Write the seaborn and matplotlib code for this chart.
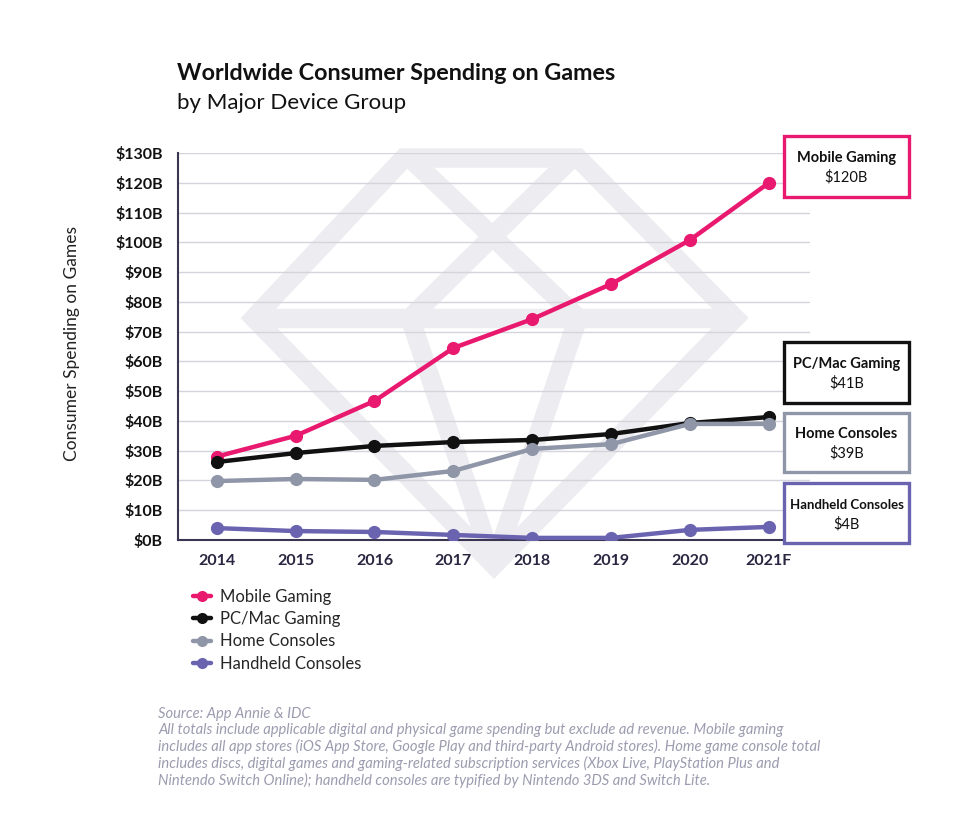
import numpy as np
import pandas as pd
import matplotlib
matplotlib.use("Agg")
import matplotlib.pyplot as plt
from matplotlib.lines import Line2D
from matplotlib.patches import Rectangle, Polygon
import seaborn as sns

# Data (billions of USD).
years = ["2014", "2015", "2016", "2017", "2018", "2019", "2020", "2021F"]
mobile = [28, 35, 46.7, 64.5, 74.2, 86, 100.8, 120]
pc_mac = [26.2, 29.2, 31.6, 32.9, 33.6, 35.6, 39.3, 41.3]
home = [19.8, 20.5, 20.2, 23.2, 30.6, 32.2, 39, 39]
handheld = [4, 3, 2.7, 1.7, 0.7, 0.7, 3.4, 4.4]
series_names = ["Mobile Gaming", "PC/Mac Gaming", "Home Consoles", "Handheld Consoles"]
colors = ["#e8196e", "#111111", "#8e96a8", "#6a63b0"]
yticks = list(range(0, 131, 10))

W, H = 973, 819
FONT = "Lato"

df = pd.DataFrame({
    "idx": list(range(len(years))) * 4,
    "value": mobile + pc_mac + home + handheld,
    "series": sum([[s] * len(years) for s in series_names], []),
})

sns.set_theme(style="white")
plt.rcParams["font.family"] = [FONT, "DejaVu Sans"]

fig = plt.figure(figsize=(W / 100, H / 100), dpi=100)
fig.patch.set_facecolor("white")


def fx(px):
    return px / W


def fy(py):
    return 1 - py / H


# Diamond watermark, drawn in figure pixel coordinates.
wm = "#ededf1"
outer = [(404, 158), (578, 158), (735, 318), (494, 565), (254, 318)]
fig.add_artist(Polygon([(fx(x), fy(y)) for x, y in outer], closed=True,
                       fill=False, edgecolor=wm, lw=14, joinstyle="miter",
                       transform=fig.transFigure, zorder=0))
inner_segments = [
    [(254, 318), (735, 318)],
    [(410, 158), (578, 318)],
    [(572, 158), (410, 318)],
    [(410, 318), (494, 565)],
    [(578, 318), (494, 565)],
]
for (x0, y0), (x1, y1) in inner_segments:
    fig.add_artist(Line2D([fx(x0), fx(x1)], [fy(y0), fy(y1)], color=wm,
                          lw=14, solid_capstyle="butt", zorder=0))

ax = fig.add_axes([fx(178), fy(540), fx(810) - fx(178), fy(153) - fy(540)])
ax.set_facecolor("none")
ax.set_zorder(1)

sns.lineplot(data=df, x="idx", y="value", hue="series", hue_order=series_names,
             palette=colors, marker="o", markersize=9.5, markeredgewidth=0,
             linewidth=3.2, ax=ax, legend=True, zorder=3)

ax.set_xlim(-0.49, 7.52)
ax.set_ylim(0, 130)
ax.set_yticks(yticks)
ax.set_yticklabels([f"${v}B" for v in yticks], fontsize=11.5, fontweight="bold",
                   color="#111111")
ax.set_xticks(range(len(years)))
ax.set_xticklabels(years, fontsize=11.5, fontweight="bold", color="#2a2540")
ax.tick_params(axis="both", length=0)
ax.tick_params(axis="y", pad=11)
ax.tick_params(axis="x", pad=10)
ax.grid(axis="y", color="#d4d4dc", linewidth=1)
ax.set_axisbelow(True)
for side in ["top", "right"]:
    ax.spines[side].set_visible(False)
for side in ["left", "bottom"]:
    ax.spines[side].set_color("#3a3550")
    ax.spines[side].set_linewidth(1.5)
ax.set_xlabel("")
ax.set_ylabel("")

fig.text(fx(72), fy(343), "Consumer Spending on Games", rotation=90,
         ha="center", va="center", fontsize=12.5, color="#222222")

# Legend below the axes
handles, labels = ax.get_legend_handles_labels()
for hd in handles:
    hd.set_markersize(8)
ax.legend(handles, labels, loc="upper left", bbox_to_anchor=(fx(186), fy(582)),
          bbox_transform=fig.transFigure, frameon=False, fontsize=12,
          handlelength=1.1, handletextpad=0.55, labelspacing=0.38,
          borderaxespad=0)

# Titles
fig.text(fx(177), fy(73), "Worldwide Consumer Spending on Games",
         fontsize=16.8, fontweight="bold", color="#111111", va="center")
fig.text(fx(177), fy(103), "by Major Device Group", fontsize=16,
         color="#111111", va="center")

# End-value boxes
boxes = [(136, 197), (342, 403), (413, 472), (483, 543)]
last_vals = [mobile[-1], pc_mac[-1], home[-1], handheld[-1]]
for name, col, (top, bot), val in zip(series_names, colors, boxes, last_vals):
    fig.add_artist(Rectangle((fx(784), fy(bot)), fx(909) - fx(784),
                             fy(top) - fy(bot), transform=fig.transFigure,
                             facecolor="white", edgecolor=col, lw=2.4,
                             zorder=5))
    cx = fx(846.5)
    h = bot - top
    fs = 9.5 if name == "Handheld Consoles" else 10.5
    fig.text(cx, fy(top + h * 0.36), name, ha="center", va="center",
             fontsize=fs, fontweight="bold", color="#111111", zorder=6)
    fig.text(cx, fy(top + h * 0.68), f"${round(val)}B", ha="center",
             va="center", fontsize=10.5, color="#111111", zorder=6)

# Footnote
note = ("Source: App Annie & IDC\n"
        "All totals include applicable digital and physical game spending but exclude ad revenue. Mobile gaming\n"
        "includes all app stores (iOS App Store, Google Play and third-party Android stores). Home game console total\n"
        "includes discs, digital games and gaming-related subscription services (Xbox Live, PlayStation Plus and\n"
        "Nintendo Switch Online); handheld consoles are typified by Nintendo 3DS and Switch Lite.")
fig.text(fx(158), fy(707), note, ha="left", va="top", fontsize=10.6,
         style="italic", color="#9c9cb0", linespacing=1.16)

fig.savefig("out.png", dpi=100, facecolor="white")
